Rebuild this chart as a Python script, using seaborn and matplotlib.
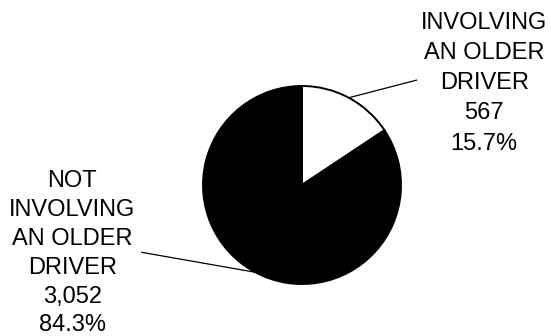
import numpy as np
import matplotlib
matplotlib.use("Agg")
import matplotlib.pyplot as plt
import seaborn as sns

# Crash counts split by whether an older driver was involved
categories = ["INVOLVING\nAN OLDER\nDRIVER", "NOT\nINVOLVING\nAN OLDER\nDRIVER"]
counts = [567, 3052]
colors = ["white", "black"]

sns.set_theme(style="white")
plt.rcParams["font.family"] = ["Liberation Sans", "DejaVu Sans"]

W, H, DPI = 551, 336, 100
FONT_SIZE = 17
fig = plt.figure(figsize=(W / DPI, H / DPI), dpi=DPI)
ax = fig.add_axes([0, 0, 1, 1])

# pie geometry in pixels
cx, cy, r = 302, 151, 99
ax.pie(counts, colors=colors, startangle=90, counterclock=False,
       radius=1.0, center=(0, 0),
       wedgeprops=dict(edgecolor="black", linewidth=1.4))
ax.set_xlim(-cx / r, (W - cx) / r)
ax.set_ylim(-cy / r, (H - cy) / r)
ax.set_aspect("auto")
ax.axis("off")

total = sum(counts)
shares = [c / total for c in counts]

# label placement: text anchor, leader elbow (pie radii), line spacing
text_pos = [(1.84, (H - cy - 12) / r), (-2.32, (H - cy - 170) / r)]
elbow_pos = [(1.16, 1.06), (-1.62, -0.68)]
spacings = [1.48, 1.405]

start = 90.0
for cat, cnt, sh, tp, ep, ls in zip(categories, counts, shares,
                                    text_pos, elbow_pos, spacings):
    span = 360.0 * sh
    mid = np.deg2rad(start - span / 2)
    start -= span
    edge = (np.cos(mid), np.sin(mid))
    ax.plot([edge[0], ep[0]], [edge[1], ep[1]], color="black", lw=0.9)
    ax.text(tp[0], tp[1], f"{cat}\n{cnt:,}\n{sh * 100:.1f}%",
            ha="center", va="top", fontsize=FONT_SIZE,
            linespacing=ls, color="black")

fig.savefig("out.png", dpi=DPI, facecolor="white")
